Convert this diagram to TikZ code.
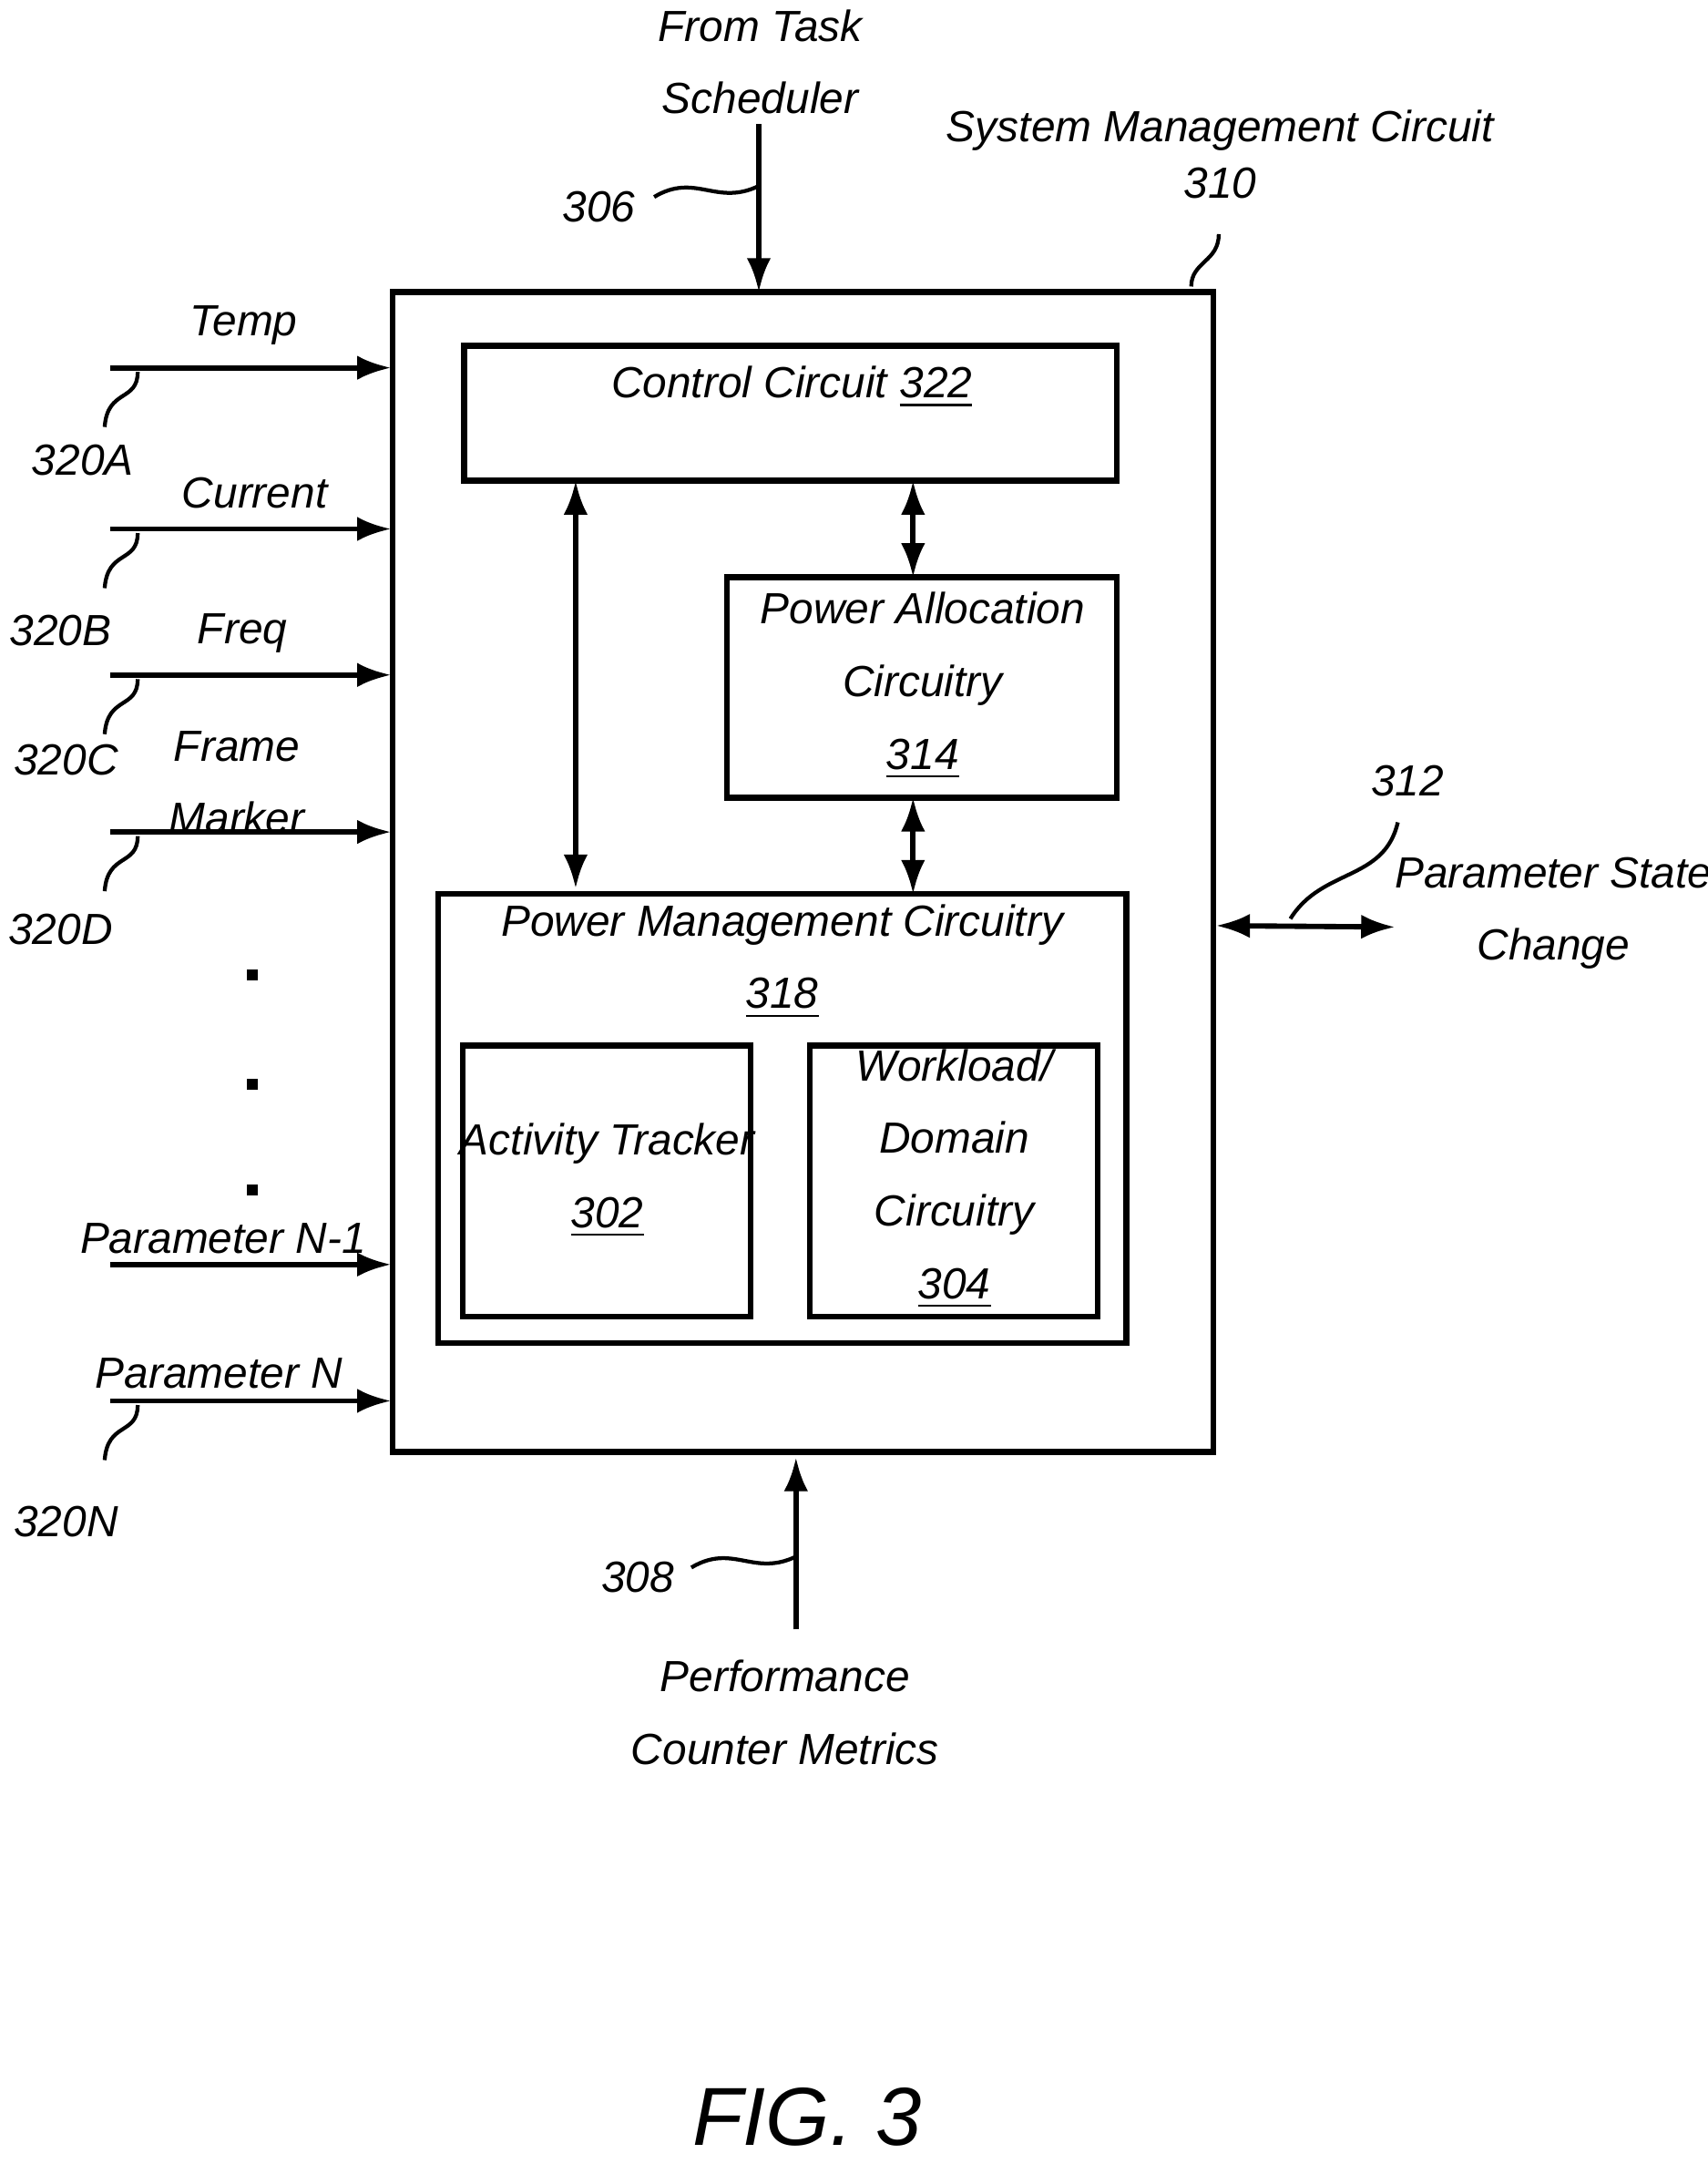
\documentclass[tikz,border=0pt]{standalone}
\usepackage{fontspec}
\setmainfont{Liberation Sans}
\usetikzlibrary{arrows.meta}
\begin{document}
\begin{tikzpicture}
		[
			x=0.01cm, y=-0.01cm,
			% Box style for the blocks.
			blk/.style={draw, line width=1.2pt},
			% Italic labels.
			lbl/.style={font=\fontsize{9}{11}\selectfont\itshape, align=center, inner sep=0pt},
			sig/.style={line width=1.1pt, -{Latex[length=7pt,width=5pt]}},
			dsig/.style={line width=1.1pt, {Latex[length=7pt,width=5pt]}-{Latex[length=7pt,width=5pt]}},
			leader/.style={line width=0.8pt}
		]
			\useasboundingbox (0,0) rectangle (1240,1571);
			% Blocks.
			\draw[blk] (285,212) rectangle (881,1054);
			\draw[blk] (337,251) rectangle (811,349);
			\draw[blk] (528,419) rectangle (811,579);
			\draw[blk] (318,649) rectangle (818,975);
			\draw[blk] (336,759) rectangle (545,956);
			\draw[blk] (588,759) rectangle (797,956);
			\node[lbl] (smc) at (886,95) {System Management Circuit};
			\node[lbl] (smcn) at (886,133) {310};
			\node[lbl] (cc) at (575,281) {Control Circuit \underline{322}};
			\node[lbl] (pa) at (670,498) {Power Allocation\\[4pt]Circuitry\\[4pt]\underline{314}};
			\node[lbl] (pm) at (568,698) {Power Management Circuitry\\[4pt]\underline{318}};
			\node[lbl] (at) at (441,857) {Activity Tracker\\[4pt]\underline{302}};
			\node[lbl] (wd) at (693,856) {Workload/\\[4pt]Domain\\[4pt]Circuitry\\[4pt]\underline{304}};
			\draw[leader] (865,208) .. controls (865,190) and (885,190) .. (885,170);
			% Internal links.
			\draw[dsig] (418,349) -- (418,645);
			\draw[dsig] (663,349) -- (663,419);
			\draw[dsig] (663,579) -- (663,649);
			% Top and bottom inputs.
			\node[lbl] (ts) at (552,45) {From Task\\[4pt]Scheduler};
			\coordinate (tsin) at (551,90);
			\draw[sig] (tsin) -- (551,212);
			\node[lbl] (n306) at (435,150) {306};
			\draw[leader] (475,143) .. controls (505,125) and (520,150) .. (551,135);
			\node[lbl] (pc) at (570,1243) {Performance\\[4pt]Counter Metrics};
			\coordinate (pcin) at (578,1183);
			\draw[sig] (pcin) -- (578,1058);
			\node[lbl] (n308) at (463,1145) {308};
			\draw[leader] (502,1138) .. controls (532,1120) and (547,1145) .. (578,1130);
			% Right output.
			\node[lbl] (ps) at (1128,663) {Parameter State\\[4pt]Change};
			\draw[dsig] (883,672) -- (1013,673);
			\node[lbl] (n312) at (1022,567) {312};
			\draw[leader] (1015,597) .. controls (1005,640) and (960,630) .. (937,667);
			% Left inputs.
			\foreach \y/\t/\tx/\ty/\n/\nx/\ny in {
				267/Temp/177/236/320A/60/334,
				384/Current/185/358/320B/44/458,
				490/Freq/176/460/320C/48/552,
				604/{Frame\\[4pt]Marker}/172/568/320D/44/675,
				1017/Parameter N/159/997/320N/48/1105}
			{
				\draw[sig] (80,\y) -- (284,\y);
				\node[lbl] at (\tx,\ty) {\t};
				\node[lbl] at (\nx,\ny) {\n};
				\draw[leader] (100,\y+3) .. controls (100,\y+25) and (78,\y+15) .. (76,\y+43);
			}
			\draw[sig] (80,918) -- (284,918);
			\node[lbl] (pn1) at (162,899) {Parameter N-1};
			\foreach \y in {708,787,864}
				\fill (179,\y-4) rectangle (187,\y+4);
			\node[font=\fontsize{17}{20}\selectfont\itshape] (fig) at (586,1537) {FIG. 3};
		\end{tikzpicture}
\end{document}
